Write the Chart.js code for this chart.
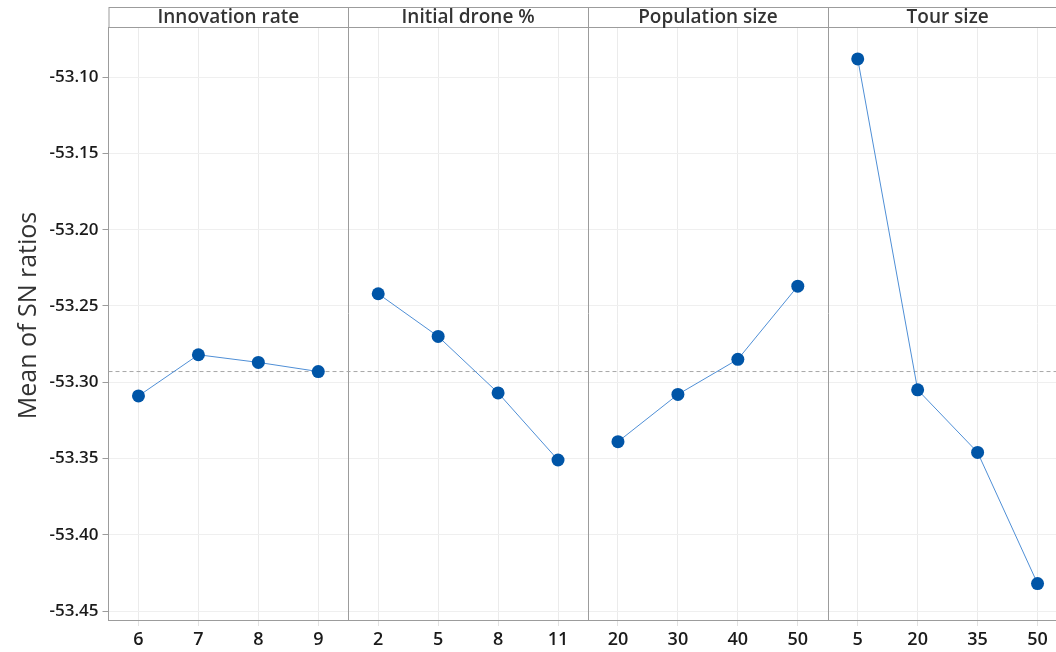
<!DOCTYPE html>
<html>
<head>
<meta charset="utf-8">
<script src="https://cdn.jsdelivr.net/npm/chart.js@4.4.0/dist/chart.umd.min.js"></script>
<style>
html, body { margin: 0; padding: 0; overflow: hidden; background: #fff; }
canvas { display: block; }
</style>
</head>
<body>
<canvas id="mainEffects" width="1074" height="652"></canvas>
<script>
// factors (one panel each)
const factors = ['Innovation rate', 'Initial drone %', 'Population size', 'Tour size'];

// levels of each factor (x tick labels)
const innovationLevels = ['6', '7', '8', '9'];
const droneLevels = ['2', '5', '8', '11'];
const populationLevels = ['20', '30', '40', '50'];
const tourLevels = ['5', '20', '35', '50'];

// mean of SN ratios per level
const innovationSN = [-53.309, -53.282, -53.287, -53.293];
const droneSN = [-53.242, -53.270, -53.307, -53.351];
const populationSN = [-53.339, -53.308, -53.285, -53.237];
const tourSN = [-53.088, -53.305, -53.346, -53.432];

const overallMean = -53.293; // dashed reference line
const yTicks = [-53.10, -53.15, -53.20, -53.25, -53.30, -53.35, -53.40, -53.45];
const yTitle = 'Mean of SN ratios';

const levels = [innovationLevels, droneLevels, populationLevels, tourLevels];
const series = [innovationSN, droneSN, populationSN, tourSN];
const tickLabels = levels.flat();

// each panel is 4 units wide on the x scale
const datasets = series.map((valores, i) => ({
    data: valores.map((v, j) => ({ x: i * 4 + 0.5 + j, y: v })),
    borderColor: '#4f8fd6',
    borderWidth: 1,
    pointRadius: 6.5,
    pointHoverRadius: 6.5,
    pointBackgroundColor: '#0055a7',
    pointBorderColor: '#0055a7',
    pointBorderWidth: 0,
    order: 1
}));

datasets.push({
    data: [{ x: 0, y: overallMean }, { x: factors.length * 4, y: overallMean }],
    borderColor: '#a8a8a8',
    borderWidth: 1,
    borderDash: [4, 3],
    pointRadius: 0,
    order: 10
});

// header strips, panel separators, y title
const panelPlugin = {
    id: 'panels',
    beforeDatasetsDraw(chart) {
        const { ctx, chartArea, scales: { x } } = chart;
        const top = 7;
        ctx.save();
        ctx.strokeStyle = '#9c9c9c';
        ctx.lineWidth = 1;
        ctx.strokeRect(chartArea.left + 0.5, top + 0.5, chartArea.right - chartArea.left, chartArea.top - top);
        for (let i = 1; i < factors.length; i++) {
            const px = Math.round(x.getPixelForValue(i * 4)) + 0.5;
            ctx.beginPath();
            ctx.moveTo(px, top);
            ctx.lineTo(px, chartArea.bottom);
            ctx.stroke();
        }
        ctx.fillStyle = '#333';
        ctx.font = '600 19px "Open Sans"';
        ctx.textAlign = 'center';
        ctx.textBaseline = 'middle';
        factors.forEach((f, i) => {
            ctx.fillText(f, x.getPixelForValue(i * 4 + 2), (top + chartArea.top) / 2 + 1);
        });

        // axis title, centred on the whole panel (header included)
        ctx.translate(29, (top + chartArea.bottom) / 2 + 2);
        ctx.rotate(-Math.PI / 2);
        ctx.font = '500 25px "Open Sans"';
        ctx.fillStyle = '#333';
        ctx.fillText(yTitle, 0, 0);
        ctx.restore();
    }
};

const ctx = document.getElementById('mainEffects');

new Chart(ctx, {
    type: 'line',
    data: { datasets: datasets },
    plugins: [panelPlugin],
    options: {
        responsive: false,
        animation: false,
        devicePixelRatio: 1,
        layout: { padding: { top: 27, right: 0, left: 0, bottom: 0 } },
        plugins: {
            legend: { display: false },
            tooltip: { enabled: false }
        },
        scales: {
            x: {
                type: 'linear',
                min: 0,
                max: factors.length * 4,
                afterBuildTicks: scale => {
                    scale.ticks = tickLabels.map((_, i) => ({ value: i + 0.5 }));
                },
                afterFit: scale => { scale.height = 32; },
                ticks: {
                    autoSkip: false,
                    maxRotation: 0,
                    padding: 3,
                    color: '#1a1a1a',
                    font: { family: 'Open Sans', size: 18, weight: '600' },
                    callback: (value, index) => tickLabels[index]
                },
                grid: { color: '#ebebeb', tickColor: '#e2e2e2', tickLength: 6 },
                border: { color: '#9c9c9c' }
            },
            y: {
                type: 'linear',
                min: -53.4559,
                max: -53.0671,
                afterBuildTicks: scale => {
                    scale.ticks = yTicks.map(v => ({ value: v }));
                },
                afterFit: scale => { scale.width = 108.5; },
                ticks: {
                    padding: 4,
                    color: '#1a1a1a',
                    font: { family: 'Open Sans', size: 17, weight: '600' },
                    callback: value => value.toFixed(2)
                },
                grid: { color: '#efefef', tickColor: '#9c9c9c', tickLength: 6 },
                border: { color: '#9c9c9c' }
            }
        }
    }
});
</script>
</body>
</html>
